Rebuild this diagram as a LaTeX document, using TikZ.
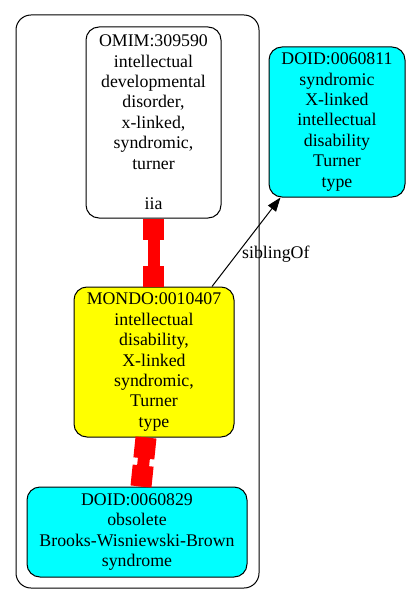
\documentclass[tikz,border=0pt]{standalone}
\usepackage{fontspec}
\setmainfont{Liberation Serif}
\usetikzlibrary{arrows.meta,calc}
\definecolor{gvcyan}{HTML}{00FFFF}
\definecolor{gvyellow}{HTML}{FFFF00}
\definecolor{gvred}{HTML}{FF0000}
\newcommand{\gvfont}{\fontsize{17.8}{20.4}\selectfont}
\newcommand{\redlink}[2]{%
  \draw[gvred, line width=12pt] (#1) -- (#2);
  \draw[gvred, line width=21pt] (#1) -- ($(#1)!21pt!(#2)$);
  \draw[gvred, line width=21pt] (#2) -- ($(#2)!21pt!(#1)$);
}
\begin{document}
\begin{tikzpicture}[x=1pt,y=-1pt,
  termbox/.style={draw, rounded corners=13pt, line width=1pt, align=center, inner sep=0pt, font=\gvfont},
  lbl/.style={font=\gvfont, inner sep=0pt}]
\useasboundingbox (0,0) rectangle (410,604);
\draw[rounded corners=15pt, line width=1pt] (16,15) rectangle (259,588);

\node[termbox, fill=white, minimum width=135pt, minimum height=191pt] (omim) at (153.5,122.5)
  {OMIM:309590\\intellectual\\developmental\\disorder,\\x-linked,\\syndromic,\\turner\\~\\iia};
\node[termbox, fill=gvcyan, minimum width=136pt, minimum height=150pt] (d811) at (337,122)
  {DOID:0060811\\syndromic\\X-linked\\intellectual\\disability\\Turner\\type};
\node[termbox, fill=gvyellow, minimum width=160pt, minimum height=150pt] (mondo) at (154,362)
  {MONDO:0010407\\intellectual\\disability,\\X-linked\\syndromic,\\Turner\\type};
\node[termbox, fill=gvcyan, minimum width=220pt, minimum height=90pt] (d829) at (137,532)
  {DOID:0060829\\obsolete\\Brooks-Wisniewski-Brown\\syndrome};

\coordinate (ea) at ([xshift=-0.5pt]mondo.north);
\redlink{omim.south}{ea}
\coordinate (eb) at ([xshift=-8pt]mondo.south);
\coordinate (ec) at ([xshift=4pt]d829.north);
\redlink{eb}{ec}

\coordinate (s1) at ([xshift=58pt]mondo.north);
\coordinate (s2) at ([xshift=12pt]d811.south west);
\draw[line width=1pt, -{Triangle[length=14pt,width=10pt]}] (s1) -- (s2);
\node[lbl, anchor=west] (sib) at (242,254) {siblingOf};
\end{tikzpicture}
\end{document}
